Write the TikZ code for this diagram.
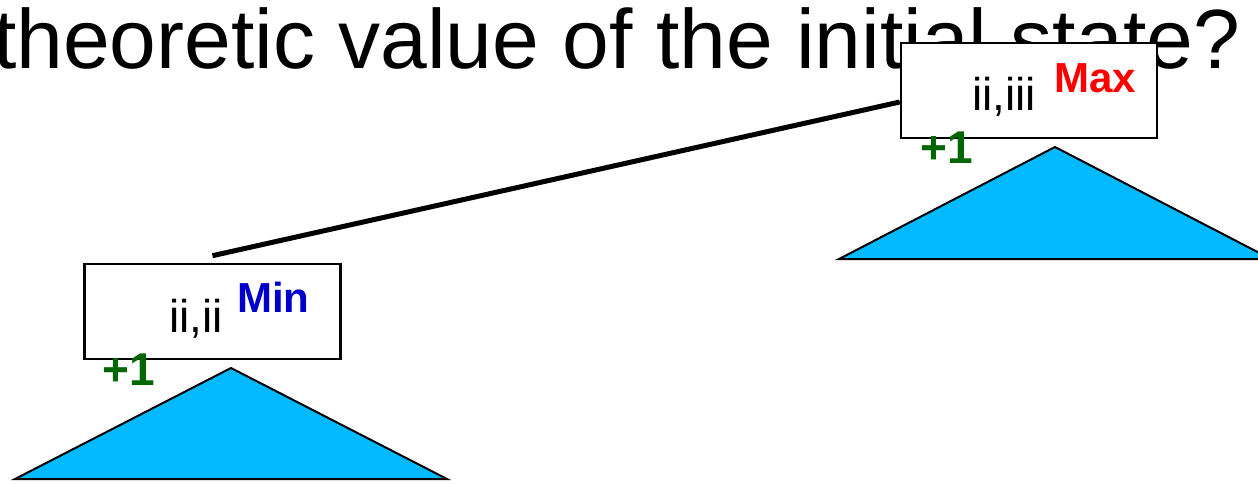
\documentclass[tikz,border=0pt]{standalone}
\usepackage{fontspec}
\setmainfont{Liberation Sans}
\definecolor{treeblue}{RGB}{0,185,255}
\definecolor{mingreen}{RGB}{0,102,0}
\definecolor{minblue}{RGB}{0,0,204}

\begin{document}
\begin{tikzpicture}[x=1pt,y=-1pt,
  statebox/.style={draw,line width=2.6pt,fill=white,minimum width=256pt,minimum height=95pt,inner sep=0pt},
  lbl/.style={anchor=base west,inner sep=0pt},
  subtree/.style={fill=treeblue,draw=black,line width=2pt,line join=miter}]
\useasboundingbox (0,0) rectangle (1258,483);
\node[lbl,font=\fontsize{84}{84}\selectfont] (title) at (-7,68) {theoretic value of the initial state?};
% the two states
\node[statebox] (maxbox) at (1029,90.5) {};
\node[statebox] (minbox) at (212.5,311.5) {};
\draw[line width=5pt] ([yshift=7pt]minbox.north) -- ([yshift=-11.5pt]maxbox.west);
\node[lbl,font=\fontsize{46}{46}\selectfont] (maxpos) at (972,110) {ii,iii};
\node[lbl,font=\bfseries\fontsize{42}{42}\selectfont,text=red] (maxtag) at (1054,92) {Max};
\node[lbl,font=\fontsize{46}{46}\selectfont] (minpos) at (169,332) {ii,ii};
\node[lbl,font=\bfseries\fontsize{42}{42}\selectfont,text=minblue] (mintag) at (237,312) {Min};
\node[lbl,font=\bfseries\fontsize{46}{46}\selectfont,text=mingreen] (maxval) at (920,163) {+1};
\node[lbl,font=\bfseries\fontsize{46}{46}\selectfont,text=mingreen] (minval) at (102,385) {+1};
% subtrees
\draw[subtree] (839,259) -- (1055,147) -- (1271,259) -- cycle;
\draw[subtree] (15,479) -- (231,368) -- (447,479) -- cycle;
\end{tikzpicture}
\end{document}
